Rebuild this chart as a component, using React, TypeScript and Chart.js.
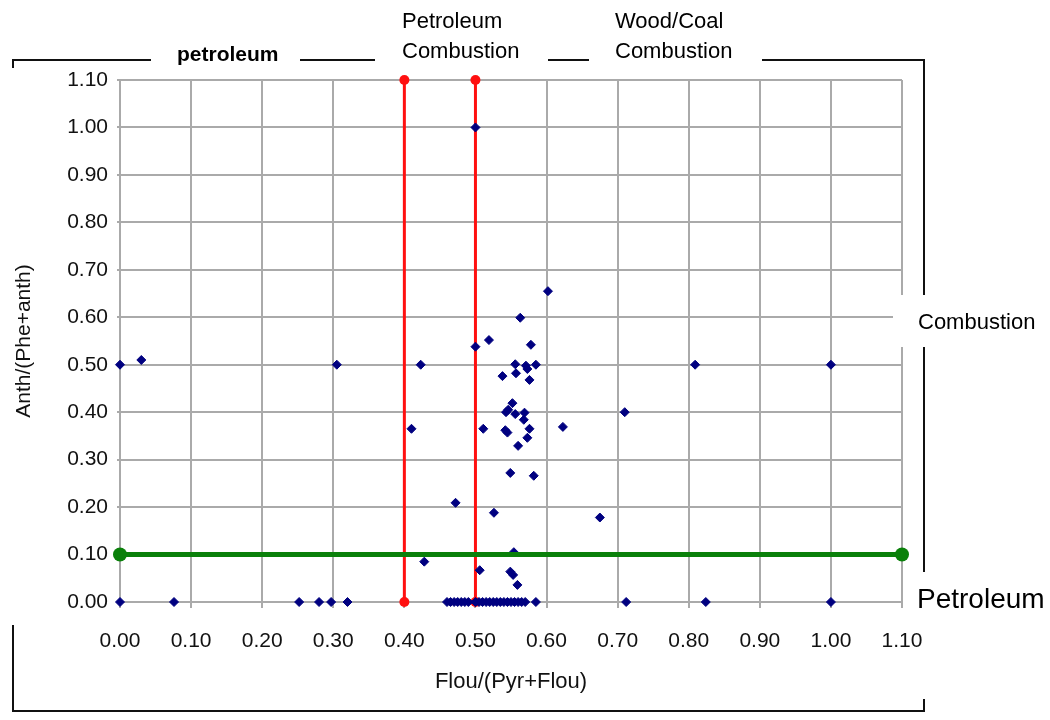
import React, { useEffect, useRef } from 'react';
import { Chart, registerables } from 'chart.js';

Chart.register(...registerables);

// Sample points: Flou/(Pyr+Flou) vs Anth/(Phe+anth)
const scatterX = [
  0.0, 0.03, 0.305, 0.0, 0.076, 0.252, 0.28, 0.297, 0.32,
  0.423, 0.41, 0.428, 0.5, 0.5, 0.519, 0.602, 0.563, 0.578,
  0.556, 0.571, 0.585, 0.573, 0.557, 0.538, 0.576,
  0.552, 0.546, 0.543, 0.556, 0.569, 0.568, 0.71,
  0.511, 0.542, 0.545, 0.576, 0.623, 0.573, 0.56,
  0.549, 0.582, 0.472, 0.526, 0.675,
  0.554, 0.506, 0.549, 0.553, 0.559,
  0.712, 0.824, 1.0, 0.809, 1.0,
  0.46, 0.465, 0.47, 0.475, 0.48, 0.485, 0.49, 0.5, 0.505, 0.51, 0.515, 0.52,
  0.525, 0.53, 0.535, 0.54, 0.545, 0.55, 0.555, 0.56, 0.565, 0.57, 0.585,
];
const scatterY = [
  0.5, 0.51, 0.5, 0.0, 0.0, 0.0, 0.0, 0.0, 0.0,
  0.5, 0.365, 0.085, 1.0, 0.538, 0.552, 0.655, 0.599, 0.542,
  0.501, 0.498, 0.5, 0.491, 0.482, 0.476, 0.468,
  0.419, 0.405, 0.4, 0.396, 0.399, 0.384, 0.4,
  0.365, 0.362, 0.357, 0.365, 0.369, 0.346, 0.329,
  0.272, 0.266, 0.209, 0.188, 0.178,
  0.105, 0.067, 0.064, 0.057, 0.036,
  0.0, 0.0, 0.0, 0.5, 0.5,
  0, 0, 0, 0, 0, 0, 0, 0, 0, 0, 0, 0,
  0, 0, 0, 0, 0, 0, 0, 0, 0, 0, 0,
];

// Threshold lines
const redLineAX = [0.4, 0.4];
const redLineBX = [0.5, 0.5];
const redLineY = [0, 1.1];
const greenLineX = [0, 1.1];
const greenLineY = [0.1, 0.1];

const axisMin = 0;
const axisMax = 1.1;
const axisStep = 0.1;

const xTitle = 'Flou/(Pyr+Flou)';
const yTitle = 'Anth/(Phe+anth)';

const FONT = '"Liberation Sans", Arial, Helvetica, sans-serif';

const toPts = (xs: number[], ys: number[]) => xs.map((x, i) => ({ x, y: ys[i] }));

const annotations = {
  id: 'annotations',
  afterDraw(chart: any) {
    const ctx = chart.ctx as CanvasRenderingContext2D;
    ctx.save();
    // white backdrop behind right "Combustion" label
    ctx.fillStyle = '#ffffff';
    ctx.fillRect(893, 295, 157, 52);

    ctx.strokeStyle = '#111111';
    ctx.lineWidth = 2;
    const seg = (x1: number, y1: number, x2: number, y2: number) => {
      ctx.beginPath();
      ctx.moveTo(x1, y1);
      ctx.lineTo(x2, y2);
      ctx.stroke();
    };
    // top bracket
    seg(13, 68, 13, 60);
    seg(12, 60, 151, 60);
    seg(300, 60, 375, 60);
    seg(548, 60, 589, 60);
    seg(762, 60, 925, 60);
    // right bracket
    seg(924, 59, 924, 295);
    seg(924, 347, 924, 572);
    // bottom bracket
    seg(13, 625, 13, 712);
    seg(12, 711, 925, 711);
    seg(924, 712, 924, 699);

    ctx.fillStyle = '#000000';
    ctx.textAlign = 'left';
    ctx.textBaseline = 'alphabetic';
    ctx.font = `bold 21px ${FONT}`;
    ctx.fillText('petroleum', 177, 61);
    ctx.font = `22px ${FONT}`;
    ctx.fillText('Petroleum', 402, 28);
    ctx.fillText('Combustion', 402, 58);
    ctx.fillText('Wood/Coal', 615, 28);
    ctx.fillText('Combustion', 615, 58);
    ctx.fillText('Combustion', 918, 329);
    ctx.font = `28px ${FONT}`;
    ctx.fillText('Petroleum', 917, 608);
    ctx.restore();
  },
};

export default function App() {
  const canvasRef = useRef<HTMLCanvasElement | null>(null);

  useEffect(() => {
    if (!canvasRef.current) return;
    const gridColor = '#aaaaaa';
    const chart = new Chart(canvasRef.current, {
      type: 'scatter',
      data: {
        datasets: [
          {
            label: 'Petroleum threshold',
            type: 'line',
            data: toPts(greenLineX, greenLineY),
            borderColor: '#0a800a',
            backgroundColor: '#0a800a',
            borderWidth: 5,
            pointRadius: 7,
            pointBorderWidth: 0,
            pointStyle: 'circle',
            showLine: true,
            fill: false,
            clip: false,
            order: 0,
          },
          {
            label: 'Samples',
            data: toPts(scatterX, scatterY),
            pointStyle: 'rectRot',
            pointRadius: 4.5,
            pointBorderWidth: 1,
            borderColor: '#000080',
            backgroundColor: '#000080',
            showLine: false,
            clip: false,
            order: 1,
          },
          {
            label: 'Fl/(Fl+Py) 0.40',
            type: 'line',
            data: toPts(redLineAX, redLineY),
            borderColor: '#ff1010',
            backgroundColor: '#ff1010',
            borderWidth: 3,
            pointRadius: 5,
            pointBorderWidth: 0,
            showLine: true,
            fill: false,
            clip: false,
            order: 2,
          },
          {
            label: 'Fl/(Fl+Py) 0.50',
            type: 'line',
            data: toPts(redLineBX, redLineY),
            borderColor: '#ff1010',
            backgroundColor: '#ff1010',
            borderWidth: 3,
            pointRadius: 5,
            pointBorderWidth: 0,
            showLine: true,
            fill: false,
            clip: false,
            order: 2,
          },
        ],
      },
      options: {
        responsive: false,
        animation: false,
        devicePixelRatio: 1,
        layout: { padding: { left: 0, top: 80, right: 148, bottom: 20 } },
        plugins: {
          legend: { display: false },
          tooltip: { enabled: false },
        },
        scales: {
          x: {
            type: 'linear',
            min: axisMin,
            max: axisMax,
            afterFit: (scale: any) => {
              scale.height = 98;
            },
            ticks: {
              stepSize: axisStep,
              autoSkip: false,
              maxRotation: 0,
              padding: 21,
              color: '#111111',
              font: { family: FONT, size: 21 },
              callback: (v: any) => Number(v).toFixed(2),
            },
            grid: { color: gridColor, lineWidth: 2, tickLength: 6 },
            border: { color: gridColor, width: 2 },
            title: {
              display: true,
              text: xTitle,
              color: '#111111',
              font: { family: FONT, size: 22 },
              padding: { top: 0, bottom: 5 },
            },
          },
          y: {
            type: 'linear',
            min: axisMin,
            max: axisMax,
            afterFit: (scale: any) => {
              scale.width = 120;
            },
            ticks: {
              stepSize: axisStep,
              autoSkip: false,
              padding: 9,
              color: '#111111',
              font: { family: FONT, size: 21 },
              callback: (v: any) => Number(v).toFixed(2),
            },
            grid: { color: gridColor, lineWidth: 2, tickLength: 3 },
            border: { color: gridColor, width: 2 },
            title: {
              display: true,
              text: yTitle,
              color: '#111111',
              font: { family: FONT, size: 21 },
              padding: { top: 12, bottom: 0 },
            },
          },
        },
      },
      plugins: [annotations],
    } as any);
    return () => chart.destroy();
  }, []);

  return (
    <div style={{ position: 'absolute', left: 0, top: 0, width: 1050, height: 720, background: '#fff' }}>
      <canvas ref={canvasRef} width={1050} height={720} />
    </div>
  );
}
